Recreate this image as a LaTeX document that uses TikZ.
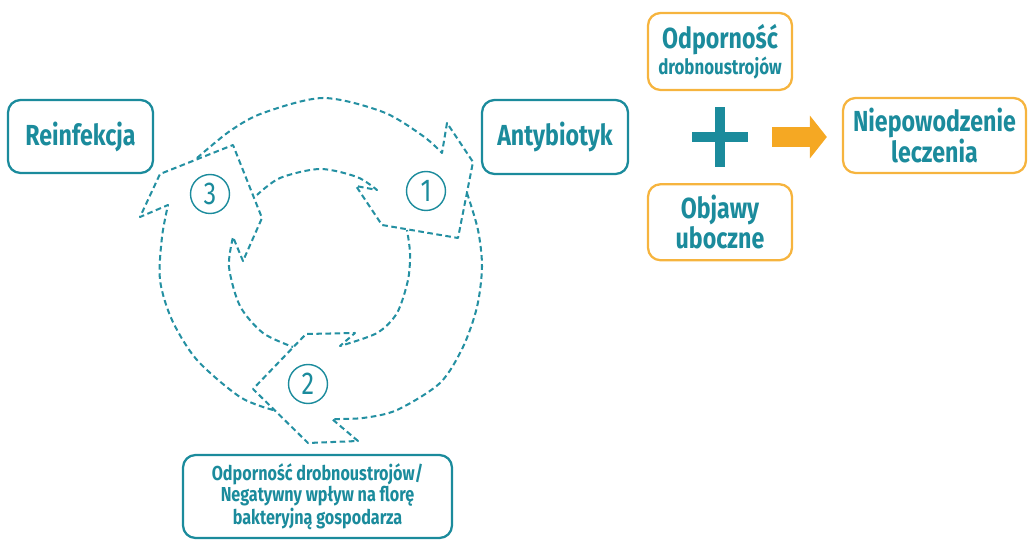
\documentclass[tikz,border=0pt]{standalone}
\usepackage{fontspec}
\setmainfont{Fira Sans}[FakeStretch=0.8]
\usetikzlibrary{arrows.meta,calc,positioning}
\definecolor{tealc}{RGB}{27,139,156}
\definecolor{dashc}{RGB}{36,144,162}
\definecolor{orangec}{RGB}{246,180,62}
\definecolor{arrowc}{RGB}{245,168,35}
\tikzset{%
  tbox/.style={draw=tealc,line width=1.3pt,rounded corners=0.25cm,text=tealc,
    font=\bfseries\fontsize{16.5}{15.5}\selectfont,align=center,inner sep=0pt},
  obox/.style={tbox,draw=orangec},
  cyc/.style={draw=dashc,line width=1.15pt,dash pattern=on 3.2pt off 2pt,line join=round},
  num/.style={circle,draw=tealc,line width=0.8pt,minimum size=0.78cm,inner sep=0pt,
    text=tealc,font=\fontsize{18}{18}\selectfont},
  plusmark/.style={minimum width=1.12cm,minimum height=1.2cm,inner sep=0pt},
  small/.style={font=\bfseries\fontsize{11.5}{12}\selectfont},
}

\begin{document}
\begin{tikzpicture}[x=0.02cm,y=-0.02cm]
  \useasboundingbox (0,0) rectangle (1028,540);

  % cycle
  \node[tbox,minimum width=2.9cm,minimum height=1.46cm] (reinf) at (80.5,136.5) {Reinfekcja};
  \node[tbox,minimum width=2.92cm,minimum height=1.48cm] (antyb) at (555,137) {Antybiotyk};
  \node[tbox,small,minimum width=5.38cm,minimum height=1.66cm] (flora) at (317.5,496.5)
    {Odporność drobnoustrojów/\\Negatywny wpływ na florę\\bakteryjną gospodarza};

  \draw[cyc] plot[smooth] coordinates {(197,158) (230,131) (263,113) (323,98) (383,112) (423,136) (442,153)}
    -- (447,123) -- (473,162) -- (458,238) -- (382,225) -- (356,186) -- (377,190)
    -- plot[smooth] coordinates {(377,190) (357,177) (320,169) (280,178) (257,195)};
  \draw[cyc] plot[smooth] coordinates {(467,193) (478,230) (482,267) (477,307) (463,347) (440,383) (397,410) (363,418) (332,419)}
    -- (358,441) -- (308,443) -- (253,389) -- (306,334) -- (355,333) -- (340,346)
    -- plot[smooth] coordinates {(340,346) (377,333) (397,313) (408,280) (410,253) (407,230)};
  \draw[cyc] plot[smooth] coordinates {(273,410) (240,397) (197,360) (172,320) (160,280) (162,237) (168,205)}
    -- (140,217) -- (160,174) -- (233,145) -- (262,218) -- (243,261) -- (233,237)
    -- plot[smooth] coordinates {(233,237) (229,267) (240,306) (263,333) (293,347)};

  \node[num] (n1) at (426,191) {1};
  \node[num] (n2) at (308,384) {2};
  \node[num] (n3) at (210,194) {3};

  % outcome
  \node[obox,minimum width=2.88cm,minimum height=1.54cm] (odp) at (720,51.5)
    {Odporność\\[-1pt]{\fontsize{12}{12}\selectfont drobnoustrojów}};
  \node[obox,minimum width=2.88cm,minimum height=1.52cm,below=1.84cm of odp] (objawy)
    {Objawy\\uboczne};
  \node[plusmark] (plus) at (720,137) {};
  \fill[tealc] ($(plus.west)+(0,-5)$) rectangle ($(plus.east)+(0,5)$);
  \fill[tealc] ($(plus.north)+(-5,0)$) rectangle ($(plus.south)+(5,0)$);
  \node[obox,minimum width=3.66cm,minimum height=1.5cm] (fail) at (934.5,135.5)
    {Niepowodzenie\\leczenia};

  \draw[arrowc,line width=0.4cm,-{Triangle[length=0.34cm,width=0.84cm]},
    shorten <=0.48cm,shorten >=0.3cm] (plus.east) -- (plus.east -| fail.west);
\end{tikzpicture}
\end{document}
